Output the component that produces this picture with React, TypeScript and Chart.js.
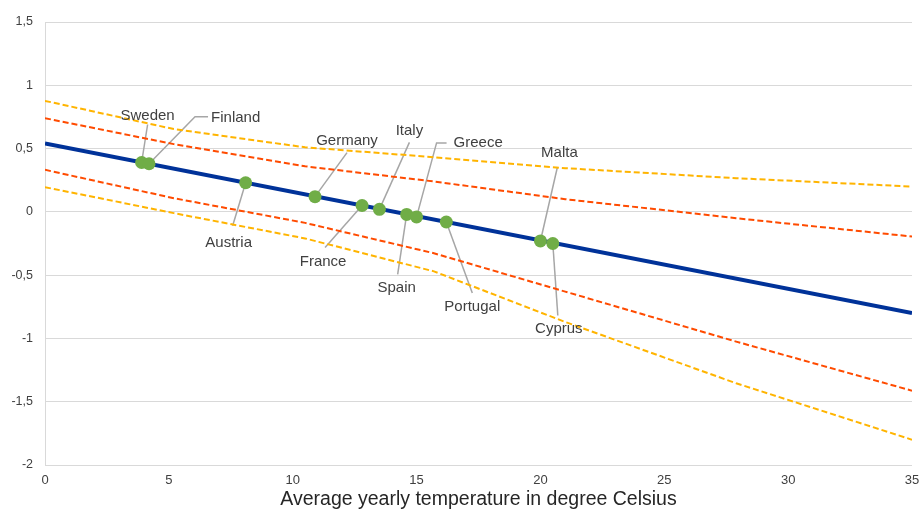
import React, { useEffect, useRef } from "react";
import { Chart, registerables } from "chart.js";

Chart.register(...registerables);

// ---- data ----
const countries = ["Sweden", "Finland", "Austria", "Germany", "France", "Italy", "Spain", "Greece", "Portugal", "Malta", "Cyprus"];
const temperature = [3.9, 4.2, 8.1, 10.9, 12.8, 13.5, 14.6, 15.0, 16.2, 20.0, 20.5];
const effect = [0.39, 0.38, 0.23, 0.12, 0.05, 0.02, -0.02, -0.04, -0.08, -0.23, -0.25];

const fitX = [0, 35];
const fitY = [0.54, -0.8];

const bandX = [0, 5.2, 10.5, 15.7, 21, 27.9, 35];
const outerUpper = [0.877, 0.654, 0.51, 0.432, 0.345, 0.266, 0.2];
const innerUpper = [0.74, 0.535, 0.36, 0.24, 0.1, -0.05, -0.195];
const innerLower = [0.332, 0.108, -0.087, -0.327, -0.63, -1.025, -1.413];
const outerLower = [0.195, -0.01, -0.21, -0.47, -0.87, -1.354, -1.8];

const xTitle = "Average yearly temperature in degree Celsius";

// label placement (pixel offsets from the point): text centre, leader end, optional elbow
type LabelPos = { tx: number; ty: number; ex: number; ey: number; bx?: number; by?: number; align?: CanvasTextAlign };
const labelPos: LabelPos[] = [
  { tx: 6, ty: -47, ex: 6, ey: -38 },
  { tx: 62, ty: -46, ex: 59, ey: -47, bx: 46, by: -47, align: "left" },
  { tx: -17, ty: 60, ex: -13, ey: 43 },
  { tx: 32, ty: -56, ex: 32, ey: -44 },
  { tx: -39, ty: 56, ex: -37, ey: 42 },
  { tx: 30, ty: -78, ex: 30, ey: -67 },
  { tx: -10, ty: 73, ex: -9, ey: 60 },
  { tx: 37, ty: -74, ex: 30, ey: -74, bx: 20, by: -74, align: "left" },
  { tx: 26, ty: 85, ex: 26, ey: 71 },
  { tx: 19, ty: -88, ex: 17, ey: -74 },
  { tx: 6, ty: 85, ex: 5, ey: 72 },
];

const toPts = (xs: number[], ys: number[]) => xs.map((x, i) => ({ x, y: ys[i] }));

const labelsPlugin = {
  id: "countryLabels",
  beforeDatasetsDraw(chart: any) {
    const meta = chart.getDatasetMeta(0);
    const ctx = chart.ctx;
    ctx.save();
    ctx.strokeStyle = "#a6a6a6";
    ctx.lineWidth = 1.5;
    meta.data.forEach((el: any, i: number) => {
      const p = labelPos[i];
      ctx.beginPath();
      ctx.moveTo(el.x, el.y);
      if (p.bx !== undefined) ctx.lineTo(el.x + p.bx, el.y + (p.by as number));
      ctx.lineTo(el.x + p.ex, el.y + p.ey);
      ctx.stroke();
    });
    ctx.restore();
  },
  afterDatasetsDraw(chart: any) {
    const meta = chart.getDatasetMeta(0);
    const ctx = chart.ctx;
    ctx.save();
    ctx.fillStyle = "#404040";
    ctx.font = "15px 'Liberation Sans', Arial, sans-serif";
    ctx.textBaseline = "middle";
    meta.data.forEach((el: any, i: number) => {
      const p = labelPos[i];
      ctx.textAlign = p.align || "center";
      ctx.fillText(countries[i], el.x + p.tx, el.y + p.ty);
    });
    ctx.restore();
  },
};

const dashed = (color: string, xs: number[], ys: number[]) => ({
  data: toPts(xs, ys),
  showLine: true,
  borderColor: color,
  backgroundColor: color,
  borderWidth: 2,
  borderDash: [6, 3],
  pointRadius: 0,
  tension: 0,
  fill: false,
});

export default function App() {
  const ref = useRef<HTMLCanvasElement | null>(null);
  useEffect(() => {
    document.body.style.margin = "0";
    const chart = new Chart(ref.current as HTMLCanvasElement, {
      type: "scatter",
      data: {
        datasets: [
          {
            data: toPts(temperature, effect),
            pointRadius: 6.5,
            pointBackgroundColor: "#70ad47",
            pointBorderColor: "#70ad47",
            pointBorderWidth: 0,
            showLine: false,
          } as any,
          {
            data: toPts(fitX, fitY),
            showLine: true,
            borderColor: "#003299",
            borderWidth: 4,
            pointRadius: 0,
          } as any,
          dashed("#ff4b00", bandX, innerUpper) as any,
          dashed("#ff4b00", bandX, innerLower) as any,
          dashed("#ffb400", bandX, outerUpper) as any,
          dashed("#ffb400", bandX, outerLower) as any,
        ],
      },
      options: {
        animation: false,
        responsive: false,
        layout: { padding: { top: 22, right: 10, left: 0, bottom: 0 } },
        plugins: { legend: { display: false }, tooltip: { enabled: false } },
        scales: {
          x: {
            type: "linear",
            min: 0,
            max: 35,
            grid: { display: false, drawTicks: false },
            border: { display: false },
            ticks: {
              stepSize: 5,
              padding: 8,
              color: "#404040",
              font: { family: "'Liberation Sans', Arial", size: 13 },
            },
            title: {
              display: true,
              text: xTitle,
              color: "#262626",
              font: { family: "'Liberation Sans', Arial", size: 19.5 },
              padding: { top: 0, bottom: 0 },
            },
            afterFit: (s: any) => {
              s.height = 46;
              s.paddingLeft = 0;
              s.paddingRight = 0;
            },
          },
          y: {
            type: "linear",
            min: -2,
            max: 1.5,
            grid: { color: "#d9d9d9", lineWidth: 1, drawTicks: false },
            border: { display: true, color: "#d9d9d9", width: 1 },
            ticks: {
              stepSize: 0.5,
              padding: 12,
              color: "#404040",
              font: { family: "'Liberation Sans', Arial", size: 12.5 },
              callback: (v: any) => String(v).replace(".", ","),
            },
            afterFit: (s: any) => {
              s.width = 45;
              s.paddingTop = 0;
              s.paddingBottom = 0;
            },
          },
        },
      },
      plugins: [labelsPlugin],
    } as any);
    return () => chart.destroy();
  }, []);
  return <canvas ref={ref} width={922} height={511} style={{ display: "block" }} />;
}
